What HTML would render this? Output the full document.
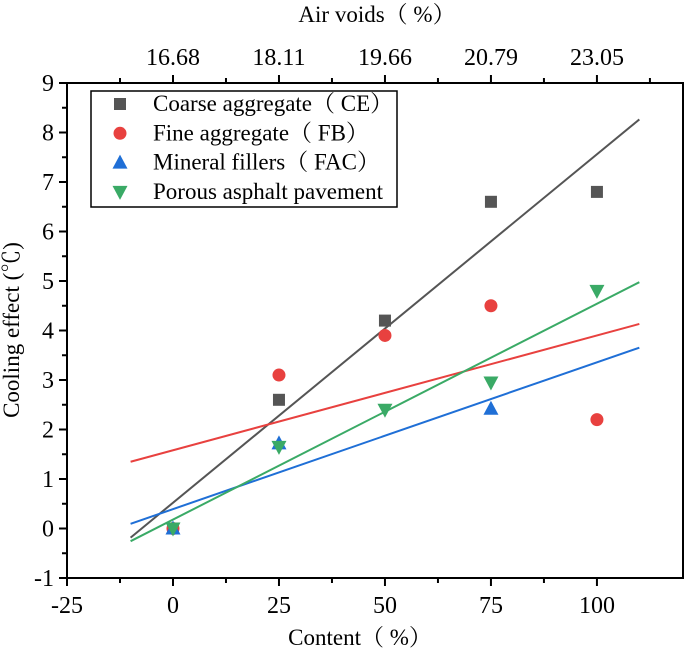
<!DOCTYPE html>
<html><head><meta charset="utf-8"><style>
body{margin:0;background:#fff}
svg{display:block;font-family:"Liberation Serif","Noto Serif CJK SC",serif}
</style></head><body>
<svg id="c" width="685" height="657" viewBox="0 0 685 657"></svg>
<script>
const contents=[0,25,50,75,100];
const coarse=[0,2.6,4.2,6.6,6.8];
const fine=[0,3.1,3.9,4.5,2.2];
const mineralX=[0,25,75];
const mineral=[0,1.72,2.42];
const porous=[0,1.65,2.4,2.95,4.8];
const xTicks=[-25,0,25,50,75,100];
const yTicks=[-1,0,1,2,3,4,5,6,7,8,9];
const topLabels=["16.68","18.11","19.66","20.79","23.05"];
const L=67,R=683,T=83,B=578,xmin=-25,xmax=120.3,ymin=-1,ymax=9;
const sx=v=>L+(v-xmin)/(xmax-xmin)*(R-L);
const sy=v=>B-(v-ymin)/(ymax-ymin)*(B-T);
const svg=document.getElementById('c');
const NS='http://www.w3.org/2000/svg';
function mk(t,a,p){const e=document.createElementNS(NS,t);for(const k in a)e.setAttribute(k,a[k]);(p||svg).appendChild(e);return e;}
function txt(s,x,y,a){const e=mk('text',Object.assign({x:x,y:y,'font-size':24,'text-anchor':'middle',fill:'#000'},a||{}));e.textContent=s;return e;}
function fit(xs,ys){const n=xs.length;const mx=xs.reduce((a,b)=>a+b)/n,my=ys.reduce((a,b)=>a+b)/n;let sxy=0,sxx=0;for(let i=0;i<n;i++){sxy+=(xs[i]-mx)*(ys[i]-my);sxx+=(xs[i]-mx)**2;}const m=sxy/sxx;return [m,my-m*mx];}
const series=[
 {name:'coarse',xs:contents,ys:coarse,c:'#555555',m:'sq',label:'Coarse aggregate（ CE）'},
 {name:'fine',xs:contents,ys:fine,c:'#e8413f',m:'ci',label:'Fine aggregate（ FB）'},
 {name:'mineral',xs:mineralX,ys:mineral,c:'#1f6fd6',m:'up',label:'Mineral fillers（ FAC）'},
 {name:'porous',xs:contents,ys:porous,c:'#3aaa66',m:'dn',label:'Porous asphalt pavement'}];
let f=mk('rect',{x:L,y:T,width:R-L,height:B-T,fill:'none',stroke:'#000','stroke-width':2});

xTicks.forEach((v,i)=>{const x=sx(v);
 let t=mk('line',{x1:x,y1:B,x2:x,y2:B+8,stroke:'#000','stroke-width':2});
 
 if(i<xTicks.length-1){mk('line',{x1:sx(v+12.5),y1:B,x2:sx(v+12.5),y2:B+5,stroke:'#000','stroke-width':2});}
 let l=txt(String(v),x,B+35);});
for(let v=-12.5;v<=112.5;v+=12.5){const maj=Number.isInteger(v/25);mk('line',{x1:sx(v),y1:T,x2:sx(v),y2:T-(maj?8:5),stroke:'#000','stroke-width':2});}
topLabels.forEach((s,i)=>{let l=txt(s,sx(contents[i]),T-18);});
yTicks.forEach((v,i)=>{const y=sy(v);
 let t=mk('line',{x1:L,y1:y,x2:L-8,y2:y,stroke:'#000','stroke-width':2});
 
 if(i<yTicks.length-1)mk('line',{x1:L,y1:sy(v+0.5),x2:L-5,y2:sy(v+0.5),stroke:'#000','stroke-width':2});
 let l=txt(String(v),L-13,y+8,{'text-anchor':'end'});});
let xt=txt('Content（ %）',360,645,{'font-size':23});
let tt=txt('Air voids（ %）',377,22,{'font-size':23});
let yt=txt('Cooling effect (℃)',0,0,{'font-size':23,transform:'translate(19,330) rotate(-90)'});
function marker(type,x,y,c,p){let e;
 if(type==='sq')e=mk('rect',{x:x-6,y:y-6,width:12,height:12,fill:c},p);
 else if(type==='ci')e=mk('circle',{cx:x,cy:y,r:6.5,fill:c},p);
 else if(type==='up')e=mk('polygon',{points:`${x},${y-8} ${x-7.5},${y+6} ${x+7.5},${y+6}`,fill:c},p);
 else e=mk('polygon',{points:`${x},${y+8} ${x-7.5},${y-6} ${x+7.5},${y-6}`,fill:c},p);
 return e;}
series.forEach(s=>{const [m,b]=fit(s.xs,s.ys);
 let ln=mk('line',{x1:sx(-10),y1:sy(m*-10+b),x2:sx(110),y2:sy(m*110+b),stroke:s.c,'stroke-width':2});
 });
series.forEach(s=>{s.xs.forEach((x,i)=>{let e=marker(s.m,sx(x),sy(s.ys[i]),s.c);
 });});
let lg=mk('g',{});
mk('rect',{x:91,y:91,width:306,height:116,fill:'#fff',stroke:'#000','stroke-width':1.5},lg);
series.forEach((s,i)=>{const y=104+i*29.3;
 let en=mk('g',{},lg);
 marker(s.m,120,y,s.c,en);
 let t=txt(s.label,153,y+7,{'text-anchor':'start','font-size':23});en.appendChild(t);});
</script>
</body></html>
